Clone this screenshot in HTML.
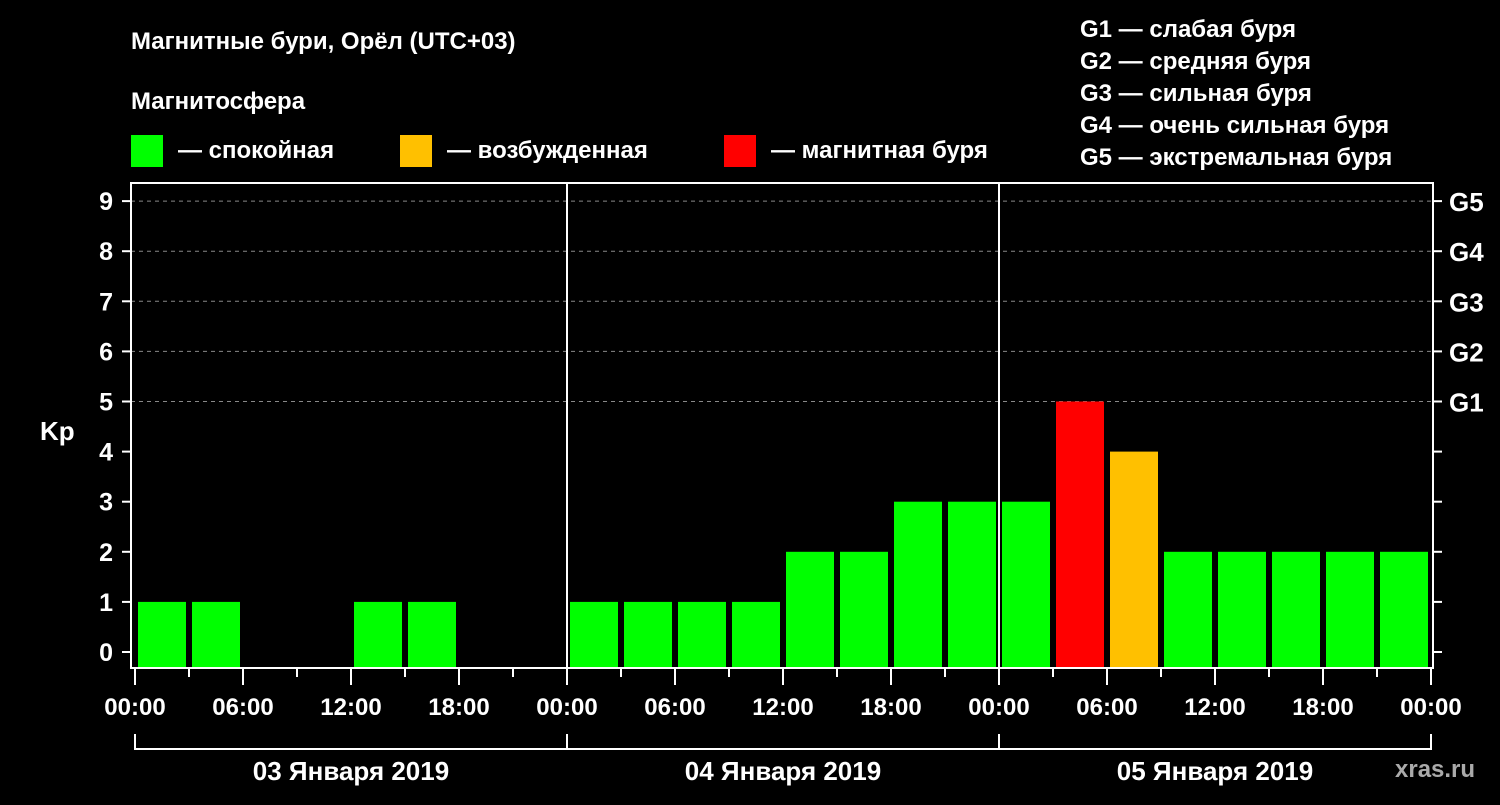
<!DOCTYPE html>
<html><head><meta charset="utf-8"><style>
body{margin:0;background:#000;width:1500px;height:800px;overflow:hidden}
svg text{font-family:"Liberation Sans",Arial,sans-serif;font-weight:bold;fill:#fff}
</style></head><body>
<svg width="1500" height="800">
<text x="131" y="49" font-size="24">Магнитные бури, Орёл (UTC+03)</text>
<text x="131" y="109" font-size="24">Магнитосфера</text>
<g>
<rect x="131" y="135" width="32" height="32" fill="#00ff00"/>
<text x="178" y="158" font-size="24">— спокойная</text>
<rect x="400" y="135" width="32" height="32" fill="#ffc000"/>
<text x="447" y="158" font-size="24">— возбужденная</text>
<rect x="724" y="135" width="32" height="32" fill="#ff0000"/>
<text x="771" y="158" font-size="24">— магнитная буря</text>
</g>
<g font-size="24">
<text x="1080" y="37">G1 — слабая буря</text>
<text x="1080" y="69">G2 — средняя буря</text>
<text x="1080" y="101">G3 — сильная буря</text>
<text x="1080" y="133">G4 — очень сильная буря</text>
<text x="1080" y="165">G5 — экстремальная буря</text>
</g>
<text x="40" y="440" font-size="26">Kp</text>
<g id="plot"></g>
<text x="1395" y="777" font-size="24" style="fill:#aaa">xras.ru</text>
</svg>
<script>
const kpValues=[1,1,0,0,1,1,0,0, 1,1,1,1,2,2,3,3, 3,5,4,2,2,2,2,2];
const dayLabels=["03 Января 2019","04 Января 2019","05 Января 2019"];
const hourLabels=["00:00","06:00","12:00","18:00"];
const gLabels=["G1","G2","G3","G4","G5"];
const NS="http://www.w3.org/2000/svg";
const g=document.getElementById('plot');
const X0=135,SLOT=54,Y0=652,UNIT=50.1,BOT=668,TOP=183,L=131,R=1433;
const xs=i=>X0+i*SLOT, ys=v=>Y0-v*UNIT;
function mk(t,a,txt){const e=document.createElementNS(NS,t);for(const k in a)e.setAttribute(k,a[k]);if(txt!=null)e.textContent=txt;g.appendChild(e);return e;}
// grid
for(let v=5;v<=9;v++){const e=mk('line',{x1:L,x2:R,y1:ys(v),y2:ys(v),stroke:'#888','stroke-dasharray':'4,4','stroke-width':1});

}
// bars
kpValues.forEach((v,i)=>{if(v<=0)return;const c=v>=5?'#ff0000':v>=4?'#ffc000':'#00ff00';
const e=mk('rect',{x:xs(i)+3,y:ys(v),width:48,height:BOT-ys(v),fill:c});

});
// frame
const f=mk('rect',{x:L,y:TOP,width:R-L,height:BOT-TOP,fill:'none',stroke:'#fff','stroke-width':2});


const nDays=dayLabels.length;
for(let d=1;d<nDays;d++){const e=mk('line',{x1:xs(d*8),x2:xs(d*8),y1:TOP,y2:BOT,stroke:'#fff','stroke-width':2});

}
// y ticks
for(let v=0;v<=9;v++){
const t1=mk('line',{x1:122,x2:L,y1:ys(v),y2:ys(v),stroke:'#fff','stroke-width':2});


const t2=mk('line',{x1:R,x2:1442,y1:ys(v),y2:ys(v),stroke:'#fff','stroke-width':2});


const tl=mk('text',{x:113,y:ys(v)+9,'font-size':25,'text-anchor':'end'},String(v));


if(v>=5){const gl=mk('text',{x:1449,y:ys(v)+10,'font-size':26},gLabels[v-5]);

}}
// x ticks
for(let i=0;i<=nDays*8;i++){const big=i%2==0;
const e=mk('line',{x1:xs(i),x2:xs(i),y1:BOT,y2:BOT+(big?17:9),stroke:'#fff','stroke-width':2});


if(big){const t=mk('text',{x:xs(i),y:715,'font-size':24,'text-anchor':'middle'},hourLabels[(i/2)%4]);

}}
// day brackets
const bl=mk('line',{x1:xs(0),x2:xs(nDays*8),y1:749,y2:749,stroke:'#fff','stroke-width':2});


for(let d=0;d<=nDays;d++){const e=mk('line',{x1:xs(d*8),x2:xs(d*8),y1:734,y2:750,stroke:'#fff','stroke-width':2});

}
dayLabels.forEach((s,d)=>{const t=mk('text',{x:xs(d*8+4),y:780,'font-size':26,'text-anchor':'middle'},s);

});
</script>
</body></html>
